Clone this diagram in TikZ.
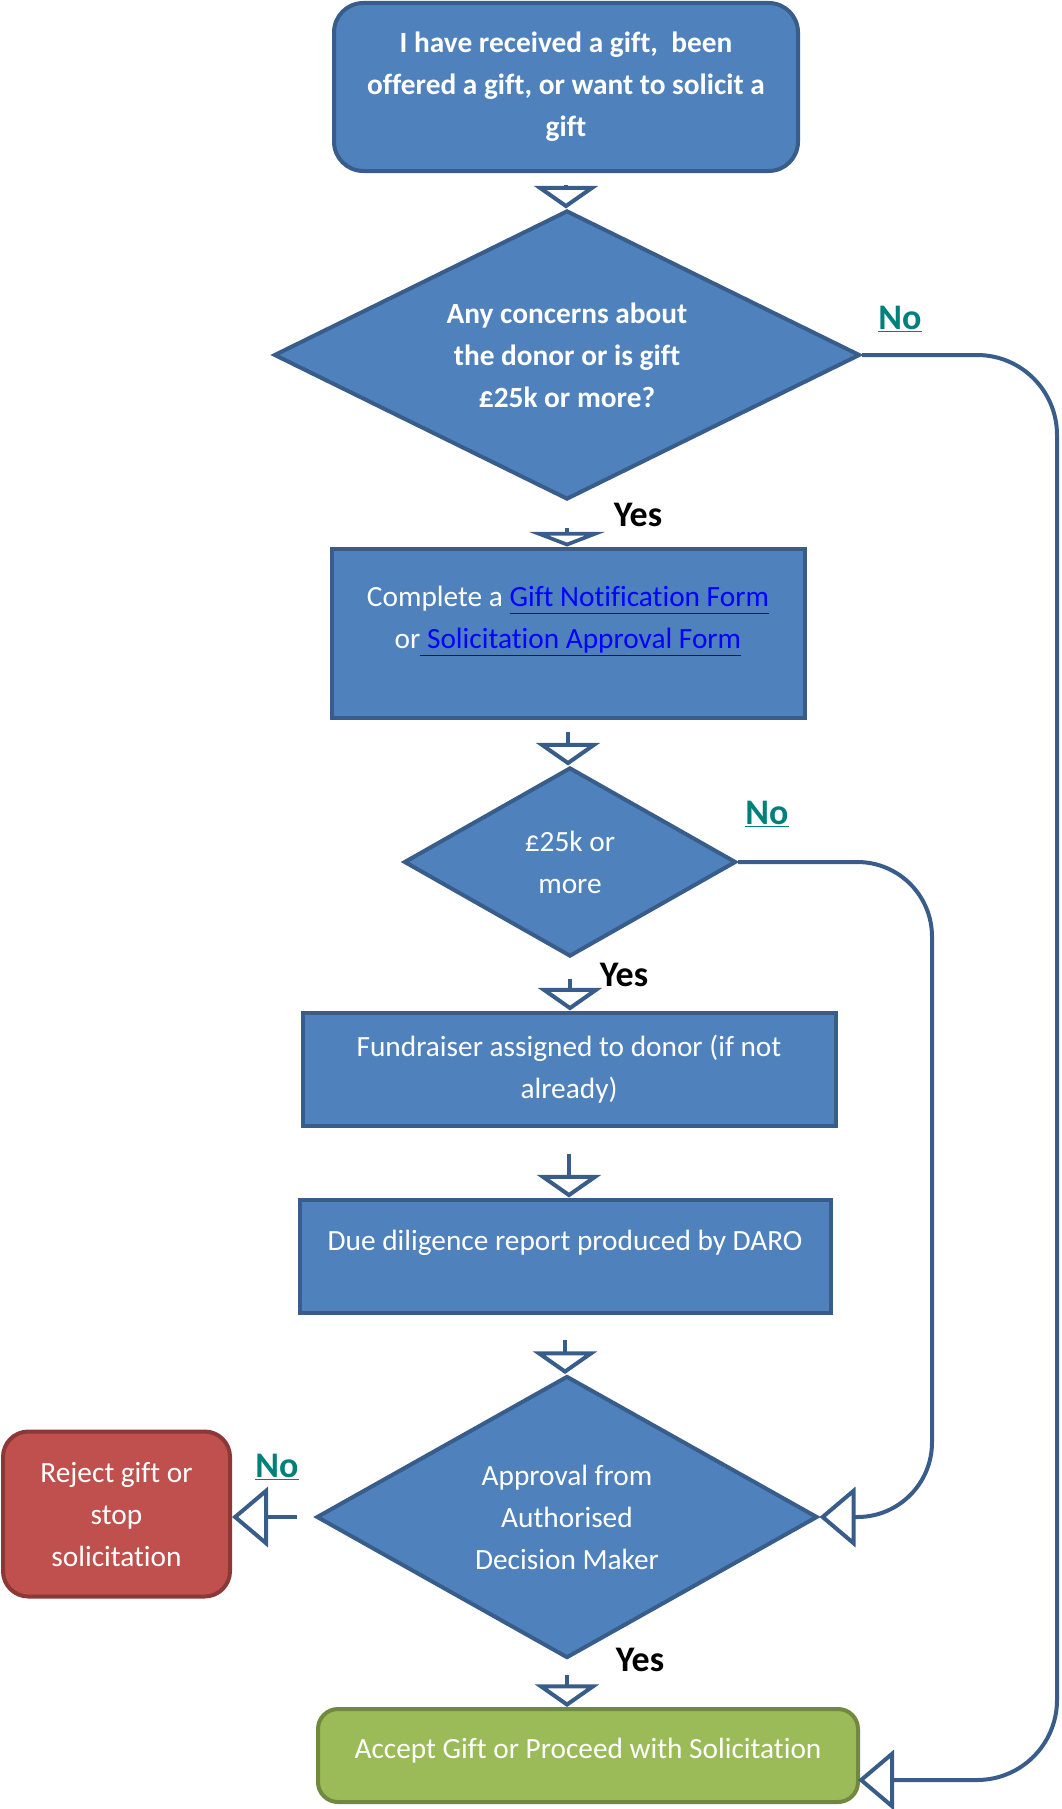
\documentclass[tikz,border=0pt]{standalone}
\usepackage{fontspec}
\setmainfont{Carlito}[Ligatures=NoCommon]
\usepackage{xcolor}
\usepackage{tikz}
\usetikzlibrary{arrows.meta,shapes.geometric}
\definecolor{boxFill}{HTML}{4F81BD}
\definecolor{boxLine}{HTML}{385D8A}
\definecolor{rejFill}{HTML}{C0504D}
\definecolor{rejLine}{HTML}{8C3836}
\definecolor{accFill}{HTML}{9BBB59}
\definecolor{accLine}{HTML}{71893F}
\definecolor{noTeal}{HTML}{00807A}
\definecolor{linkBlue}{HTML}{0000FF}
\newcommand{\bodysize}{\fontsize{22}{31.5}\selectfont}
\newcommand{\lnk}[1]{\textcolor{linkBlue}{\underline{#1\vphantom{p}}}}
\tikzset{
  stepbox/.style={draw=boxLine, fill=boxFill, line width=3pt, text=white, align=center, inner sep=0pt, font=\bodysize},
  ask/.style={stepbox, diamond, aspect=2},
  flow/.style={boxLine, line width=3pt, -{Triangle[open, width=48pt, length=17pt]}},
  sideflow/.style={flow, -{Triangle[open, width=45pt, length=27pt]}},
  yeslbl/.style={font=\fontsize{27}{32}\selectfont\bfseries, text=black},
  nolbl/.style={font=\fontsize{27}{32}\selectfont\bfseries, text=noTeal},
}

\begin{document}
\begin{tikzpicture}[x=0.75pt, y=-0.75pt]
\useasboundingbox (0,0) rectangle (1061,1809);
\node[stepbox, rounded corners=22pt, minimum width=348pt, minimum height=126pt, font=\bodysize\bfseries] (start) at (566,87) {I have received a gift,~ been\\ offered a gift, or want to solicit a\\ gift};
\node[ask, minimum width=439.5pt, minimum height=216.75pt, font=\bodysize\bfseries] (concern) at (567,355) {Any concerns about\\ the donor or is gift\\ £25k or more?};
\node[stepbox, minimum width=354.75pt, minimum height=126.75pt] (form) at (568,633) {Complete a \lnk{Gift Notification Form}\\ or\lnk{\ Solicitation Approval Form}\\[-8pt] \mbox{}};
\node[ask, minimum width=249pt, minimum height=141.75pt] (size) at (570,862) {£25k or\\ more};
\node[stepbox, minimum width=399.75pt, minimum height=84.75pt] (fund) at (569,1069) {Fundraiser assigned to donor (if not\\ already)};
\node[stepbox, minimum width=398.25pt, minimum height=84.75pt] (dd) at (565,1256) {Due diligence report produced by DARO\\[-8pt] \mbox{}};
\node[ask, minimum width=375.75pt, minimum height=211.5pt] (approve) at (567,1517) {Approval from\\ Authorised\\ Decision Maker};
\node[stepbox, draw=rejLine, fill=rejFill, rounded corners=19pt, minimum width=170.25pt, minimum height=123.75pt] (reject) at (116.5,1514) {Reject gift or\\ stop\\ solicitation};
\node[stepbox, draw=accLine, fill=accFill, rounded corners=15pt, minimum width=405pt, minimum height=69.75pt] (accept) at (588,1755.5) {Accept Gift or Proceed with Solicitation\\[-20pt] \mbox{}};

\node[yeslbl] (yes1) at (638,515) {Yes};
\node[yeslbl] (yes2) at (624,975) {Yes};
\node[yeslbl] (yes3) at (640,1660) {Yes};
\node[nolbl] (no1) at (900,319) {\underline{No}};
\node[nolbl] (no2) at (767,814) {\underline{No}};
\node[nolbl] (no3) at (277,1467) {\underline{No}};

\draw[flow, shorten <=9pt] (start.south) -- (start.south |- concern.north);
\draw[flow, -{Triangle[open, width=57pt, length=11pt]}, shorten <=20pt] (concern.south) -- (concern.south |- form.north);
\draw[flow, shorten <=9pt] (form.south) -- (form.south |- size.north);
\draw[flow, shorten <=15pt] (size.south) -- (size.south |- fund.north);
\draw[flow, shorten <=20pt] (fund.south) -- (fund.south |- dd.north);
\draw[flow, shorten <=19pt] (dd.south) -- (dd.south |- approve.north);
\draw[flow, shorten <=11pt] (approve.south) -- (approve.south |- accept.north);
\draw[sideflow, shorten <=13pt] (approve.west) -- (approve.west -| reject.east);

\coordinate (railA) at (1057,1000);
\coordinate (accIn) at (858,1780);
\coordinate (railB) at (932,1200);
\draw[sideflow, rounded corners=60pt] (concern.east) -| (railA) |- (accIn);
\draw[sideflow, rounded corners=56pt] (size.east) -| (railB) |- (approve.east);
\end{tikzpicture}
\end{document}
